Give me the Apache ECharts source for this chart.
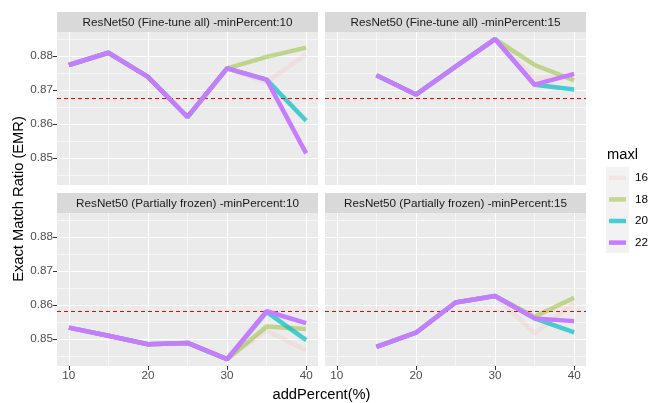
<!DOCTYPE html>
<html><head><meta charset="utf-8">
<script src="https://cdn.jsdelivr.net/npm/echarts@6/dist/echarts.min.js"></script>
<style>html,body{margin:0;padding:0;background:#fff}#c{width:651px;height:403px}</style>
</head><body><div id="c"></div>
<script>
// ---- data ----
const addPercent = [10, 15, 20, 25, 30, 35, 40];
const maxlLevels = ['16', '18', '20', '22'];
const xTicks = [10, 20, 30, 40];
const xMinor = [15, 25, 35];
const yTicks = [0.85, 0.86, 0.87, 0.88];
const yMinor = [0.845, 0.855, 0.865, 0.875, 0.885];
const panelTitles = [
  'ResNet50 (Fine-tune all) -minPercent:10',
  'ResNet50 (Fine-tune all) -minPercent:15',
  'ResNet50 (Partially frozen) -minPercent:10',
  'ResNet50 (Partially frozen) -minPercent:15'
];
// Fine-tune all, minPercent 10
const ft10_16 = [0.8774, 0.8810, 0.8739, 0.8621, 0.8764, 0.8723, 0.8805];
const ft10_18 = [0.8774, 0.8810, 0.8739, 0.8621, 0.8764, 0.8798, 0.8825];
const ft10_20 = [0.8774, 0.8810, 0.8739, 0.8621, 0.8764, 0.8731, 0.8610];
const ft10_22 = [0.8774, 0.8810, 0.8739, 0.8621, 0.8764, 0.8731, 0.8514];
// Fine-tune all, minPercent 15
const ft15_16 = [null, 0.8744, 0.8687, 0.8769, 0.8850, 0.8736, 0.8740];
const ft15_18 = [null, 0.8744, 0.8687, 0.8769, 0.8850, 0.8774, 0.8729];
const ft15_20 = [null, 0.8744, 0.8687, 0.8769, 0.8850, 0.8716, 0.8702];
const ft15_22 = [null, 0.8744, 0.8687, 0.8769, 0.8850, 0.8716, 0.8748];
// Partially frozen, minPercent 10
const pf10_16 = [0.8534, 0.8510, 0.8485, 0.8489, 0.8441, 0.8525, 0.8467];
const pf10_18 = [0.8534, 0.8510, 0.8485, 0.8489, 0.8441, 0.8537, 0.8530];
const pf10_20 = [0.8534, 0.8510, 0.8485, 0.8489, 0.8441, 0.8580, 0.8497];
const pf10_22 = [0.8534, 0.8510, 0.8485, 0.8489, 0.8441, 0.8582, 0.8547];
// Partially frozen, minPercent 15
const pf15_16 = [null, 0.8477, 0.8519, 0.8608, 0.8627, 0.8517, 0.8606];
const pf15_18 = [null, 0.8477, 0.8519, 0.8608, 0.8627, 0.8566, 0.8622];
const pf15_20 = [null, 0.8477, 0.8519, 0.8608, 0.8627, 0.8561, 0.8520];
const pf15_22 = [null, 0.8477, 0.8519, 0.8608, 0.8627, 0.8561, 0.8553];
const refLines = [0.8675, 0.8675, 0.8581, 0.8581];

const panelData = [
  [ft10_16, ft10_18, ft10_20, ft10_22],
  [ft15_16, ft15_18, ft15_20, ft15_22],
  [pf10_16, pf10_18, pf10_20, pf10_22],
  [pf15_16, pf15_18, pf15_20, pf15_22]
];

// ---- styling ----
const colors = ['rgba(248,118,109,0.1)', 'rgba(124,174,0,0.4)', 'rgba(0,191,196,0.7)', 'rgba(199,124,255,1)'];
const FONT = '"Liberation Sans", Arial, sans-serif';
const grids = [
  {left: 57, top: 32, width: 261, height: 153},
  {left: 325, top: 32, width: 261, height: 153},
  {left: 57, top: 213, width: 261, height: 153},
  {left: 325, top: 213, width: 261, height: 153}
];
const XMIN = 8.5, XMAX = 41.5, YMIN = 0.8421, YMAX = 0.8871;

const xAxes = [], yAxes = [], series = [], graphics = [];
grids.forEach((g, i) => {
  const bottom = i >= 2, left = i % 2 === 0;
  xAxes.push({
    type: 'value', gridIndex: i, min: XMIN, max: XMAX,
    axisLine: {show: false},
    axisTick: {show: bottom, customValues: xTicks, length: 4, lineStyle: {color: '#333', width: 1}},
    axisLabel: {show: bottom, customValues: xTicks, color: '#4D4D4D', fontSize: 11.7, fontFamily: FONT, margin: 4},
    splitLine: {show: true, lineStyle: {color: '#fff', width: 1.1}}
  });
  xAxes.push({
    type: 'value', gridIndex: i, min: XMIN, max: XMAX,
    axisLine: {show: false},
    axisTick: {show: false, customValues: xMinor},
    axisLabel: {show: false, customValues: xMinor},
    splitLine: {show: true, lineStyle: {color: '#fff', width: 0.55}}
  });
  yAxes.push({
    type: 'value', gridIndex: i, min: YMIN, max: YMAX,
    axisLine: {show: false},
    axisTick: {show: left, customValues: yTicks, length: 4, lineStyle: {color: '#333', width: 1}},
    axisLabel: {show: left, customValues: yTicks, color: '#4D4D4D', fontSize: 11.7, fontFamily: FONT, margin: 4,
      formatter: v => v.toFixed(2)},
    splitLine: {show: true, lineStyle: {color: '#fff', width: 1.1}}
  });
  yAxes.push({
    type: 'value', gridIndex: i, min: YMIN, max: YMAX,
    axisLine: {show: false},
    axisTick: {show: false, customValues: yMinor},
    axisLabel: {show: false, customValues: yMinor},
    splitLine: {show: true, lineStyle: {color: '#fff', width: 0.55}}
  });
  panelData[i].forEach((vals, k) => {
    const s = {
      type: 'line', name: maxlLevels[k], xAxisIndex: 2 * i, yAxisIndex: 2 * i,
      data: addPercent.map((x, j) => [x, vals[j]]).filter(p => p[1] !== null),
      symbol: 'none', showSymbol: false, silent: true, animation: false,
      color: colors[k],
      lineStyle: {color: colors[k], width: 4.5},
      itemStyle: {color: colors[k]},
      z: 2 + k
    };
    if (k === 3) {
      s.markLine = {
        silent: true, symbol: 'none', animation: false, precision: 6,
        label: {show: false},
        lineStyle: {color: '#FF0000', type: [4, 3], width: 1},
        data: [{yAxis: refLines[i]}]
      };
    }
    series.push(s);
  });
  // strip
  const stripTop = g.top - 20;
  graphics.push({type: 'rect', shape: {x: g.left, y: stripTop, width: g.width, height: 20},
    style: {fill: '#D9D9D9'}, silent: true, z: -1});
  graphics.push({type: 'text', x: g.left + g.width / 2, y: stripTop + 10.5, silent: true,
    style: {text: panelTitles[i], fill: '#1A1A1A', fontSize: 11.7, fontFamily: FONT, align: 'center', verticalAlign: 'middle'}});
});
// legend key background
graphics.push({type: 'rect', shape: {x: 606, y: 167, width: 23, height: 86}, style: {fill: '#F2F2F2'}, silent: true, z: -1});
// axis titles
graphics.push({type: 'text', x: 19, y: 199, rotation: Math.PI / 2, silent: true,
  style: {text: 'Exact Match Ratio (EMR)', fill: '#000', fontSize: 14.7, fontFamily: FONT, align: 'center', verticalAlign: 'middle'}});
graphics.push({type: 'text', x: 321.5, y: 395, silent: true,
  style: {text: 'addPercent(%)', fill: '#000', fontSize: 14.7, fontFamily: FONT, align: 'center', verticalAlign: 'middle'}});

const chart = echarts.init(document.getElementById('c'), null, {renderer: 'canvas'});
chart.setOption({
  animation: false,
  backgroundColor: '#fff',
  title: {text: 'maxl', left: 607, top: 147, padding: 0,
    textStyle: {fontSize: 14.7, fontWeight: 'normal', color: '#000', fontFamily: FONT}},
  legend: {
    orient: 'vertical', left: 609, top: 167, padding: 0, itemGap: 0,
    icon: 'rect', itemWidth: 17, itemHeight: 4.5, selectedMode: false,
    data: maxlLevels,
    textStyle: {fontSize: 11.7, color: '#000', fontFamily: FONT, lineHeight: 21.6, height: 21.6, padding: [0, 0, 0, 4]}
  },
  grid: grids.map(g => Object.assign({show: true, backgroundColor: '#EBEBEB', borderWidth: 0, containLabel: false}, g)),
  xAxis: xAxes,
  yAxis: yAxes,
  series: series,
  graphic: graphics
});
</script></body></html>
